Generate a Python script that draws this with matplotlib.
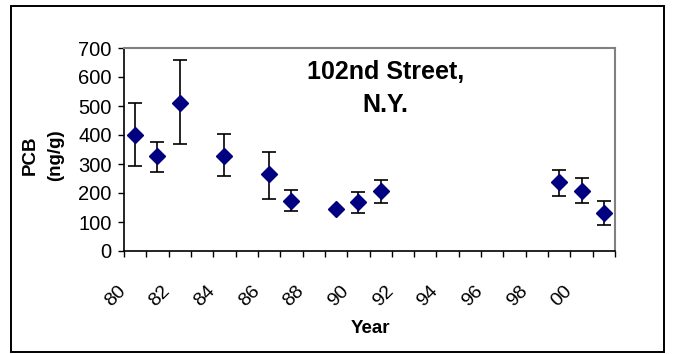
import matplotlib
matplotlib.use("Agg")
import matplotlib.pyplot as plt
import matplotlib.transforms as mtransforms
from matplotlib.patches import Rectangle

plt.rcParams['font.family'] = ['Liberation Sans', 'DejaVu Sans']

# years sampled (Excel category axis, 1980..2001)
all_years = list(range(1980, 2002))
tick_labels = ['80', '82', '84', '86', '88', '90', '92', '94', '96', '98', '00']
years = [1980, 1981, 1982, 1984, 1986, 1987, 1989, 1990, 1991, 1999, 2000, 2001]
pcb = [400, 328, 510, 328, 265, 174, 145, 168, 208, 237, 208, 132]
err_hi = [512, 376, 657, 404, 342, 209, 145, 203, 244, 280, 251, 174]
err_lo = [293, 272, 369, 259, 181, 139, 145, 132, 167, 188, 167, 90]

xpos = [all_years.index(y) for y in years]
yerr = [[p - lo for p, lo in zip(pcb, err_lo)],
        [hi - p for p, hi in zip(pcb, err_hi)]]

fig = plt.figure(figsize=(6.73, 3.54), dpi=100)
ax = fig.add_axes([124/673, 1 - 251/354, 491/673, 203/354])

ax.errorbar(xpos, pcb, yerr=yerr, fmt='D', color='#000080', markersize=8,
            ecolor='black', elinewidth=1.2, capsize=5, capthick=1.2)

ax.set_xlim(-0.5, len(all_years) - 0.5)
ax.set_ylim(0, 700)
ax.set_yticks(range(0, 701, 100))

# tick marks on category boundaries, labels on every second category
ax.set_xticks([i - 0.5 for i in range(len(all_years) + 1)])
ax.set_xticklabels([])
label_years = [1900 + int(t) if int(t) > 50 else 2000 + int(t) for t in tick_labels]
ax.set_xticks([all_years.index(y) for y in label_years], minor=True)
ax.set_xticklabels(tick_labels, minor=True, rotation=45, ha='right', va='center',
                   rotation_mode='anchor')
ax.tick_params(axis='x', which='minor', length=0, pad=27, labelsize=14)
ax.tick_params(axis='x', which='major', length=4, width=1, direction='out')
ax.tick_params(axis='y', length=4, width=1, pad=5, labelsize=14.5)
shift = mtransforms.ScaledTranslation(-12/100, 0, fig.dpi_scale_trans)
for lab in ax.xaxis.get_minorticklabels():
    lab.set_transform(lab.get_transform() + shift)

for side in ['left', 'bottom']:
    ax.spines[side].set_color('black')
    ax.spines[side].set_linewidth(1.2)
for side in ['top', 'right']:
    ax.spines[side].set_color('#808080')
    ax.spines[side].set_linewidth(1.5)

ax.text(0.532, 0.80, '102nd Street,\nN.Y.', transform=ax.transAxes, ha='center', va='center',
        fontsize=18, fontweight='bold', linespacing=1.45)

ax.text(-0.165, 0.473, 'PCB\n(ng/g)', transform=ax.transAxes, rotation=90,
        ha='center', va='center', fontsize=13.5, fontweight='bold',
        multialignment='center', linespacing=1.6)

ax.set_xlabel('Year', fontsize=13.5, fontweight='bold', va='top')
ax.xaxis.set_label_coords(0.501, -0.34)

fig.patches.append(Rectangle((11/673, 1 - 352/354), 653/673, 346/354, transform=fig.transFigure,
                             fill=False, edgecolor='black', linewidth=1.4))

fig.savefig('out.png', dpi=100)
